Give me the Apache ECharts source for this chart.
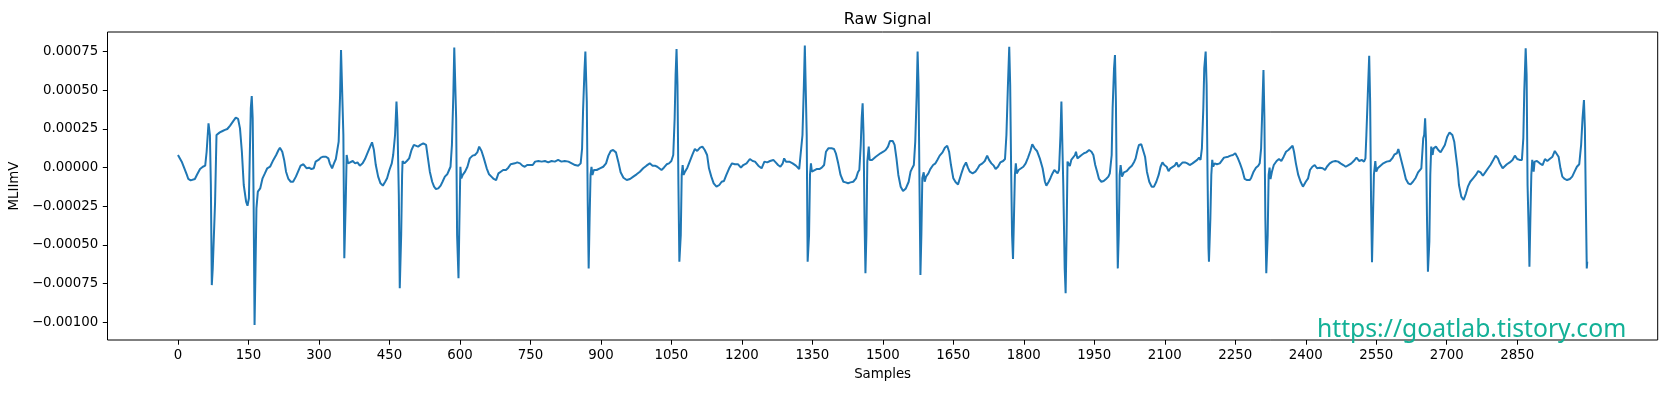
<!DOCTYPE html>
<html><head><meta charset="utf-8">
<script src="https://cdn.jsdelivr.net/npm/echarts@6/dist/echarts.min.js"></script>
<style>html,body{margin:0;padding:0;background:#fff}#c{width:1667px;height:393px}</style>
</head><body><div id="c"></div>
<script>
const samples = [
0,4,8,13,19,22,27,31,36,41,
47,53,58,61,65,67,68,70,72,74,
76,79,82,84,89,95,100,105,111,118,
123,128,132,136,140,145,148,151,153,155,
157,159,161,163,165,167,170,175,180,185,
190,196,203,209,214,217,222,226,230,235,
240,245,251,256,261,267,270,274,279,284,
289,293,295,299,304,309,315,320,323,328,
332,336,339,342,345,347,350,352,354,357,
359,362,366,372,377,382,387,393,398,403,
409,413,417,421,426,431,436,441,445,450,
455,458,462,465,467,470,472,475,477,478,
482,487,492,497,502,506,511,516,522,528,
532,536,541,545,549,554,559,563,568,573,
577,580,583,586,588,590,592,594,597,599,
601,603,606,611,616,621,627,632,637,641,
646,651,657,662,667,672,677,682,687,692,
698,703,708,712,717,722,728,733,738,743,
748,755,760,767,774,781,788,795,802,809,
816,823,831,838,845,852,857,860,862,865,
867,870,872,874,876,878,880,882,885,891,
898,905,911,916,921,926,932,937,942,948,
955,962,969,976,983,990,997,1004,1010,1015,
1020,1024,1029,1034,1040,1045,1050,1054,1057,1059,
1061,1063,1065,1067,1070,1072,1074,1076,1079,1084,
1089,1095,1100,1105,1111,1116,1121,1126,1130,1135,
1140,1146,1152,1157,1162,1167,1173,1179,1185,1192,
1198,1203,1210,1217,1223,1228,1235,1242,1248,1254,
1260,1267,1272,1277,1282,1287,1290,1294,1301,1308,
1315,1322,1326,1329,1332,1334,1336,1338,1340,1343,
1345,1347,1349,1353,1359,1365,1370,1375,1379,1384,
1391,1396,1400,1405,1410,1416,1421,1426,1431,1437,
1443,1447,1450,1453,1455,1457,1459,1461,1463,1465,
1467,1470,1472,1477,1481,1485,1490,1495,1501,1506,
1511,1515,1521,1525,1529,1533,1538,1543,1549,1555,
1559,1563,1566,1569,1572,1574,1576,1578,1580,1582,
1584,1587,1589,1592,1597,1601,1607,1612,1616,1621,
1627,1632,1637,1641,1645,1650,1655,1660,1664,1668,
1672,1677,1681,1685,1691,1697,1702,1706,1712,1717,
1722,1726,1731,1736,1740,1745,1750,1756,1760,1763,
1766,1769,1771,1773,1775,1777,1779,1781,1783,1785,
1789,1793,1799,1804,1809,1814,1818,1823,1828,1834,
1840,1845,1848,1853,1857,1861,1865,1868,1872,1875,
1878,1880,1882,1884,1887,1889,1891,1893,1896,1898,
1901,1905,1909,1911,1914,1918,1923,1928,1933,1939,
1944,1948,1952,1956,1960,1965,1970,1975,1980,1983,
1987,1989,1992,1994,1996,1998,2000,2002,2004,2006,
2009,2013,2019,2024,2030,2035,2038,2042,2045,2050,
2054,2058,2062,2067,2072,2077,2082,2087,2091,2095,
2099,2104,2108,2112,2116,2121,2125,2129,2133,2138,
2143,2148,2153,2159,2164,2169,2173,2176,2179,2182,
2184,2187,2189,2191,2193,2194,2197,2199,2201,2203,
2206,2211,2217,2221,2226,2230,2235,2240,2245,2250,
2255,2260,2265,2270,2275,2281,2284,2289,2294,2299,
2302,2305,2308,2310,2312,2314,2316,2319,2321,2323,
2325,2328,2332,2338,2343,2348,2353,2358,2363,2367,
2372,2375,2379,2384,2389,2394,2400,2405,2409,2414,
2419,2424,2430,2436,2441,2445,2451,2457,2463,2469,
2474,2480,2485,2491,2497,2502,2508,2514,2519,2524,
2527,2529,2532,2535,2537,2539,2541,2543,2545,2548,
2550,2553,2559,2565,2572,2579,2584,2589,2594,2597,
2600,2604,2609,2613,2618,2623,2628,2634,2639,2643,
2646,2650,2652,2654,2656,2658,2660,2663,2665,2667,
2670,2672,2677,2682,2687,2691,2696,2701,2706,2712,
2716,2719,2723,2726,2731,2736,2741,2745,2750,2756,
2762,2767,2772,2777,2783,2788,2793,2799,2804,2809,
2813,2819,2823,2828,2834,2840,2845,2850,2855,2860,
2863,2865,2868,2870,2872,2875,2876,2878,2880,2882,
2885,2887,2892,2898,2904,2909,2914,2919,2925,2930,
2933,2938,2942,2946,2951,2956,2962,2967,2972,2977,
2982,2986,2989,2992,2994,2996,2998,2999
];
const mlii = [
0.82e-4,0.71e-4,0.39e-4,0,-0.47e-4,-0.73e-4,-0.82e-4,-0.91e-4,-0.73e-4,-0.43e-4,
-0.09e-4,0.06e-4,0.13e-4,1.03e-4,2.87e-4,2.98e-4,2.11e-4,-1.12e-4,-7.59e-4,-6.51e-4,
-6.51e-4,-2.2e-4,2.11e-4,2.22e-4,2.28e-4,2.37e-4,2.44e-4,2.5e-4,2.72e-4,3.02e-4,
3.23e-4,3.15e-4,2.54e-4,1.03e-4,-1.12e-4,-2.2e-4,-2.46e-4,-1.98e-4,1.03e-4,3.84e-4,
4.63e-4,3.19e-4,-2.2e-4,-10.17e-4,-6.51e-4,-2.63e-4,-1.55e-4,-1.34e-4,-0.69e-4,-0.37e-4,
-0.04e-4,0.06e-4,0.5e-4,0.82e-4,1.14e-4,1.29e-4,1.03e-4,0.5e-4,-0.26e-4,-0.73e-4,
-0.91e-4,-0.91e-4,-0.58e-4,-0.22e-4,0.13e-4,0.22e-4,0.13e-4,-0.04e-4,0,-0.09e-4,
-0.04e-4,0.39e-4,0.28e-4,0.5e-4,0.65e-4,0.71e-4,0.71e-4,0.6e-4,0.28e-4,-0.04e-4,
0.28e-4,0.56e-4,0.6e-4,1.68e-4,4.7e-4,7.61e-4,7.61e-4,2.11e-4,-5.86e-4,-2.2e-4,
0.82e-4,0.28e-4,0.17e-4,0.43e-4,0.28e-4,0.34e-4,0.13e-4,0.28e-4,0.56e-4,0.93e-4,
1.36e-4,1.64e-4,1.14e-4,0.17e-4,-0.58e-4,-1.01e-4,-1.16e-4,-0.91e-4,-0.69e-4,-0.15e-4,
0.28e-4,0.82e-4,2.11e-4,4.27e-4,2.97e-4,-1.77e-4,-7.8e-4,-4.35e-4,-0.47e-4,0.43e-4,
0.28e-4,0.43e-4,0.6e-4,1.14e-4,1.47e-4,1.57e-4,1.36e-4,1.47e-4,1.57e-4,1.47e-4,
0.6e-4,-0.26e-4,-0.91e-4,-1.23e-4,-1.38e-4,-1.34e-4,-1.16e-4,-0.91e-4,-0.58e-4,-0.43e-4,
-0.15e-4,0.06e-4,1.47e-4,4.7e-4,7.76e-4,7.76e-4,3.19e-4,-4.35e-4,-7.15e-4,-3.28e-4,
0.06e-4,-0.69e-4,-0.47e-4,-0.26e-4,0.06e-4,0.6e-4,0.78e-4,0.82e-4,0.99e-4,1.36e-4,
1.08e-4,0.6e-4,-0.04e-4,-0.43e-4,-0.58e-4,-0.73e-4,-0.8e-4,-0.37e-4,-0.26e-4,-0.15e-4,
-0.15e-4,0,0.22e-4,0.34e-4,0.28e-4,0.34e-4,0.28e-4,0.13e-4,0.06e-4,0.17e-4,
0.17e-4,0.17e-4,0.39e-4,0.43e-4,0.39e-4,0.43e-4,0.34e-4,0.43e-4,0.39e-4,0.5e-4,
0.39e-4,0.43e-4,0.39e-4,0.28e-4,0.17e-4,0.13e-4,0.28e-4,1.25e-4,3.62e-4,6.21e-4,
7.5e-4,4.27e-4,-2.2e-4,-6.51e-4,-3.28e-4,-0.47e-4,0.06e-4,-0.47e-4,-0.15e-4,-0.15e-4,
-0.04e-4,0.06e-4,0.28e-4,0.78e-4,1.08e-4,1.14e-4,0.99e-4,0.39e-4,-0.3e-4,-0.65e-4,
-0.8e-4,-0.73e-4,-0.58e-4,-0.43e-4,-0.26e-4,-0.04e-4,0.13e-4,0.28e-4,0.13e-4,0.13e-4,
0.06e-4,-0.04e-4,-0.15e-4,0,0.22e-4,0.28e-4,0.43e-4,0.82e-4,3.19e-4,5.99e-4,
7.67e-4,5.35e-4,-1.12e-4,-6.08e-4,-4.35e-4,-0.47e-4,0.17e-4,-0.47e-4,-0.26e-4,0,
0.39e-4,0.86e-4,1.21e-4,1.08e-4,1.29e-4,1.36e-4,1.14e-4,0.82e-4,-0.04e-4,-0.58e-4,
-1.01e-4,-1.23e-4,-1.12e-4,-0.91e-4,-0.86e-4,-0.47e-4,-0.04e-4,0.28e-4,0.22e-4,0.22e-4,
0,0.17e-4,0.28e-4,0.56e-4,0.43e-4,0.39e-4,0.13e-4,-0.04e-4,0.39e-4,0.34e-4,
0.43e-4,0.5e-4,0.34e-4,0.17e-4,0.06e-4,0.28e-4,0.6e-4,0.39e-4,0.39e-4,0.28e-4,
0.13e-4,-0.09e-4,-0.04e-4,2.11e-4,5.34e-4,7.89e-4,7.89e-4,2.11e-4,-6.08e-4,-4.35e-4,
-0.47e-4,0.28e-4,-0.26e-4,-0.15e-4,-0.09e-4,-0.09e-4,0,0.17e-4,1.03e-4,1.25e-4,
1.25e-4,1.21e-4,0.93e-4,0.28e-4,-0.47e-4,-0.91e-4,-0.95e-4,-1.01e-4,-0.95e-4,-0.91e-4,
-0.69e-4,-0.3e-4,-0.15e-4,1.47e-4,3.19e-4,4.16e-4,2.11e-4,-3.28e-4,-6.83e-4,-4.35e-4,
0.39e-4,1.36e-4,0.5e-4,0.5e-4,0.56e-4,0.71e-4,0.82e-4,0.93e-4,1.03e-4,1.14e-4,
1.36e-4,1.72e-4,1.72e-4,1.47e-4,0.6e-4,-0.47e-4,-1.23e-4,-1.51e-4,-1.34e-4,-0.91e-4,
-0.26e-4,0,0.17e-4,1.68e-4,4.7e-4,7.5e-4,5.34e-4,-1.12e-4,-6.94e-4,-4.35e-4,
-0.69e-4,-0.3e-4,-0.91e-4,-0.58e-4,-0.37e-4,-0.09e-4,0.17e-4,0.28e-4,0.5e-4,0.78e-4,
0.99e-4,1.29e-4,1.42e-4,1.03e-4,0.17e-4,-0.69e-4,-0.95e-4,-1.08e-4,-0.69e-4,-0.3e-4,
0.06e-4,0.34e-4,0,-0.26e-4,-0.37e-4,-0.26e-4,-0.04e-4,0.17e-4,0.28e-4,0.43e-4,
0.78e-4,0.5e-4,0.28e-4,0.13e-4,-0.09e-4,0.06e-4,0.34e-4,0.43e-4,0.56e-4,2.11e-4,
5.13e-4,7.82e-4,5.34e-4,-0.04e-4,-4.35e-4,-5.9e-4,-3.28e-4,-0.47e-4,0.28e-4,-0.37e-4,
-0.15e-4,-0.09e-4,0.06e-4,0.28e-4,0.65e-4,1.08e-4,1.51e-4,1.25e-4,1.08e-4,0.6e-4,
-0.04e-4,-0.91e-4,-1.16e-4,-0.91e-4,-0.65e-4,-0.37e-4,-0.15e-4,-0.26e-4,-0.37e-4,-0.15e-4,
2.11e-4,4.27e-4,4.27e-4,-1.12e-4,-6.51e-4,-8.12e-4,-4.35e-4,0.39e-4,0.43e-4,0.1e-4,
0.5e-4,0.56e-4,0.82e-4,1.03e-4,0.6e-4,0.5e-4,0.82e-4,0.93e-4,0.99e-4,1.14e-4,
1.03e-4,0.82e-4,0.17e-4,-0.26e-4,-0.73e-4,-0.91e-4,-0.86e-4,-0.73e-4,-0.58e-4,-0.37e-4,
0.82e-4,3.84e-4,6.42e-4,7.28e-4,4.27e-4,-2.2e-4,-6.51e-4,-4.35e-4,-0.47e-4,0.17e-4,
-0.58e-4,-0.3e-4,-0.22e-4,-0.04e-4,0.13e-4,0.39e-4,0.6e-4,1.14e-4,1.47e-4,1.51e-4,
1.47e-4,0.71e-4,-0.26e-4,-0.91e-4,-1.23e-4,-1.23e-4,-0.91e-4,-0.47e-4,0.06e-4,0.34e-4,
0.17e-4,0.06e-4,-0.22e-4,-0.04e-4,0,0.13e-4,0.34e-4,0.06e-4,-0.04e-4,0.34e-4,
0.34e-4,0.28e-4,0.17e-4,0.28e-4,0.39e-4,0.5e-4,0.65e-4,0.5e-4,1.25e-4,3.84e-4,
6.42e-4,7.5e-4,5.35e-4,-0.47e-4,-5.21e-4,-6.08e-4,-3.28e-4,-0.47e-4,0.5e-4,0.06e-4,
0.28e-4,0.22e-4,0.28e-4,0.17e-4,0.65e-4,0.6e-4,0.71e-4,0.78e-4,0.82e-4,0.93e-4,
0.65e-4,0.28e-4,-0.15e-4,-0.73e-4,-0.8e-4,-0.8e-4,-0.65e-4,-0.26e-4,0,0.13e-4,
0.28e-4,1.25e-4,4.27e-4,6.31e-4,3.19e-4,-3.28e-4,-6.83e-4,-4.35e-4,-0.47e-4,0,
-0.73e-4,-0.26e-4,0.17e-4,0.43e-4,0.56e-4,0.43e-4,0.71e-4,1.03e-4,1.14e-4,1.25e-4,
1.42e-4,1.03e-4,0.28e-4,-0.47e-4,-0.91e-4,-1.23e-4,-0.91e-4,-0.69e-4,-0.15e-4,0.06e-4,
0.17e-4,-0.04e-4,0,-0.04e-4,-0.15e-4,0.06e-4,0.28e-4,0.39e-4,0.43e-4,0.39e-4,
0.28e-4,0.17e-4,0.06e-4,0.17e-4,0.28e-4,0.43e-4,0.65e-4,0.43e-4,0.5e-4,0.39e-4,
0.6e-4,2.11e-4,4.7e-4,7.24e-4,4.27e-4,-2.2e-4,-6.12e-4,-3.28e-4,-0.47e-4,0.43e-4,
-0.26e-4,-0.04e-4,0.13e-4,0.28e-4,0.39e-4,0.43e-4,0.6e-4,0.86e-4,0.93e-4,1.21e-4,
0.86e-4,0.39e-4,-0.22e-4,-0.73e-4,-1.01e-4,-1.08e-4,-0.91e-4,-0.65e-4,-0.3e-4,-0.22e-4,
-0.04e-4,1.9e-4,2.11e-4,3.19e-4,1.68e-4,-3.28e-4,-6.72e-4,-4.78e-4,-0.47e-4,1.36e-4,
0.82e-4,1.25e-4,1.36e-4,1.14e-4,0.99e-4,1.03e-4,1.47e-4,2.0e-4,2.28e-4,2.11e-4,
1.68e-4,0.93e-4,-0.04e-4,-1.12e-4,-1.87e-4,-2.09e-4,-1.66e-4,-1.23e-4,-0.91e-4,-0.69e-4,
-0.47e-4,-0.22e-4,-0.3e-4,-0.52e-4,-0.26e-4,-0.04e-4,0.17e-4,0.5e-4,0.78e-4,0.6e-4,
0.28e-4,-0.04e-4,-0.15e-4,0.22e-4,0.34e-4,0.5e-4,0.78e-4,0.56e-4,0.5e-4,0.5e-4,
1.9e-4,4.91e-4,7.71e-4,5.99e-4,-1.12e-4,-4.78e-4,-6.4e-4,-3.28e-4,-0.47e-4,0.5e-4,
-0.26e-4,0.39e-4,0.43e-4,0.28e-4,0.17e-4,0.56e-4,0.43e-4,0.56e-4,0.71e-4,1.08e-4,
1.14e-4,0.71e-4,-0.04e-4,-0.58e-4,-0.73e-4,-0.8e-4,-0.73e-4,-0.58e-4,-0.26e-4,0.06e-4,
0.22e-4,1.47e-4,3.19e-4,4.37e-4,2.54e-4,-2.2e-4,-6.51e-4,-6.08e-4
];
const xTicks = [0,150,300,450,600,750,900,1050,1200,1350,1500,1650,1800,1950,2100,2250,2400,2550,2700,2850];
const yTicks = [-0.001,-0.00075,-0.0005,-0.00025,0,0.00025,0.0005,0.00075];
const titleText = 'Raw Signal';
const xName = 'Samples';
const yName = 'MLIImV';
const watermark = 'https://goatlab.tistory.com';

const FONT = '"DejaVu Sans", sans-serif';
const data = samples.map((s, i) => [s, mlii[i]]);
const chart = echarts.init(document.getElementById('c'), null, {renderer: 'canvas'});
chart.setOption({
  animation: false,
  backgroundColor: '#fff',
  title: {
    text: titleText, left: 882.6, top: 7, textAlign: 'center',
    textStyle: {fontFamily: FONT, fontSize: 16, fontWeight: 'normal', color: '#000'}
  },
  grid: {left: 107.5, right: 9.3, top: 32, bottom: 53, show: true, borderColor: '#000', borderWidth: 1, containLabel: false},
  xAxis: {
    type: 'value', min: -149.95, max: 3148.95, position: 'bottom',
    name: xName, nameLocation: 'middle', nameGap: 28,
    nameTextStyle: {fontFamily: FONT, fontSize: 13.33, color: '#000'},
    axisLine: {show: false, onZero: false},
    axisTick: {show: true, length: 4.7, customValues: xTicks, lineStyle: {color: '#000', width: 1}},
    axisLabel: {customValues: xTicks, margin: 9.3, fontFamily: FONT, fontSize: 13.33, color: '#000',
      formatter: v => String(v)},
    splitLine: {show: false}
  },
  yAxis: {
    type: 'value', min: -0.001114, max: 0.000877, position: 'left',
    name: yName, nameLocation: 'middle', nameGap: 80,
    nameTextStyle: {fontFamily: FONT, fontSize: 13.33, color: '#000'},
    axisLine: {show: false, onZero: false},
    axisTick: {show: true, length: 4.7, customValues: yTicks, lineStyle: {color: '#000', width: 1}},
    axisLabel: {customValues: yTicks, margin: 9.3, fontFamily: FONT, fontSize: 13.33, color: '#000',
      formatter: v => v.toFixed(5).replace('-', '\u2212')},
    splitLine: {show: false}
  },
  series: [{
    type: 'line', data: data, showSymbol: false, symbol: 'none',
    lineStyle: {color: '#1f77b4', width: 2}, clip: true
  }],
  graphic: [{
    type: 'text', left: 1317, top: 317, z: 100,
    style: {text: watermark, font: '24.7px "Noto Sans"', fill: '#13b197'}
  }]
});
</script>
</body></html>
